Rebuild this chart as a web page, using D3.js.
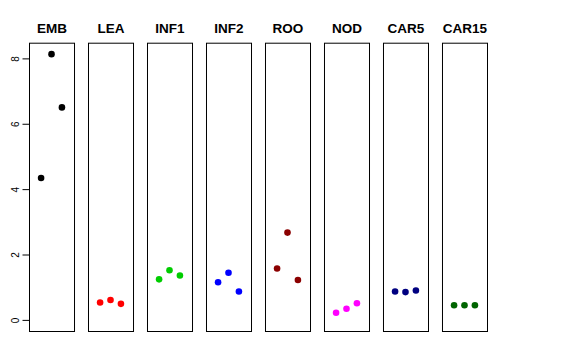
<!DOCTYPE html>
<html><head><meta charset="utf-8">
<script src="https://cdn.jsdelivr.net/npm/d3@7"></script>
<style>body{margin:0;background:#fff}svg{display:block}</style>
</head><body>
<script>
const categories = ["EMB","LEA","INF1","INF2","ROO","NOD","CAR5","CAR15"];
const colors = ["#000000","#FF0000","#00CD00","#0000FF","#8B0000","#FF00FF","#000080","#006400"];
const values = [
  [4.34, 8.13, 6.50],
  [0.53, 0.61, 0.49],
  [1.24, 1.52, 1.36],
  [1.15, 1.44, 0.87],
  [1.57, 2.67, 1.22],
  [0.22, 0.34, 0.51],
  [0.87, 0.85, 0.90],
  [0.45, 0.45, 0.45]
];
const yTicks = [0, 2, 4, 6, 8];

const W = 576, H = 360;
const svg = d3.select("body").append("svg").attr("width", W).attr("height", H);

const panelX = d3.scaleBand().domain(categories).range([29, 487]).paddingInner(0.237).paddingOuter(0);
const y = d3.scaleLinear().domain([-0.34, 8.48]).range([331, 42.7]);
const x = d3.scaleLinear().domain([-0.16, 4.16]).range([0, panelX.bandwidth()]);

categories.forEach((c, i) => {
  const g = svg.append("g").attr("transform", `translate(${panelX(c)},0)`);
  g.append("rect").attr("x", 0.5).attr("y", y(8.48) + 0.5)
    .attr("width", panelX.bandwidth()).attr("height", y(-0.34) - y(8.48))
    .attr("fill", "none").attr("stroke", "#000").attr("stroke-width", 1);
  g.append("text").attr("x", panelX.bandwidth() / 2 + 0.5).attr("y", 33)
    .attr("text-anchor", "middle").attr("font-family", "Liberation Sans, Arial, sans-serif")
    .attr("font-weight", "bold").attr("font-size", 13.5).text(c);
  g.selectAll("circle").data(values[i]).enter().append("circle")
    .attr("cx", (d, j) => x(j + 1)).attr("cy", d => y(d)).attr("r", 3.3)
    .attr("fill", colors[i]);
});

const axis = d3.axisLeft(y).tickValues(yTicks).tickSize(7).tickPadding(4);
const ag = svg.append("g").attr("transform", `translate(${panelX(categories[0]) + 0.5},0)`).call(axis);
ag.select(".domain").remove();
ag.selectAll(".tick line").attr("stroke", "#000");
ag.selectAll(".tick text")
  .attr("font-family", "Liberation Sans, Arial, sans-serif").attr("font-size", 10)
  .attr("fill", "#000")
  .attr("transform", "rotate(-90)")
  .attr("x", 0).attr("y", -14).attr("dy", "0.35em").attr("text-anchor", "middle");
</script>
</body></html>
